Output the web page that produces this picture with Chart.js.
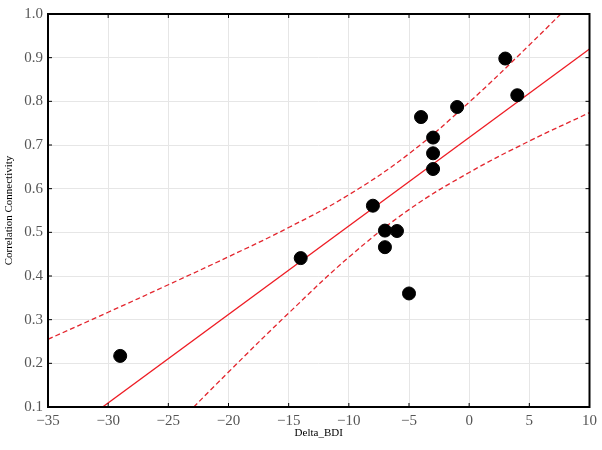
<!DOCTYPE html>
<html>
<head>
<meta charset="utf-8">
<script src="https://cdn.jsdelivr.net/npm/chart.js@4/dist/chart.umd.min.js"></script>
<style>
  html, body { margin: 0; padding: 0; background: #fff; }
  #wrap { width: 602px; height: 450px; }
</style>
</head>
<body>
<div id="wrap"><canvas id="myChart"></canvas></div>
<script>
// observed points
const deltaBDI = [-29, -14, -8, -7, -6, -7, -5, -4, -3, -3, -3, -1, 3, 4];
const connectivity = [0.217, 0.441, 0.561, 0.504, 0.503, 0.466, 0.360, 0.764, 0.717, 0.681, 0.645, 0.787, 0.898, 0.814];

// fitted line, read at the two ends
const fitX = [-35, 10];
const fitY = [0.008, 0.920];

// confidence band
const bandX = [-35, -30, -25, -20, -15, -10, -5, 0, 5, 10];
const upperY = [0.255, 0.317, 0.380, 0.444, 0.511, 0.586, 0.680, 0.798, 0.929, 1.066];
const lowerY = [-0.240, -0.099, 0.041, 0.180, 0.315, 0.443, 0.552, 0.637, 0.709, 0.774];

const xTicks = [-35, -30, -25, -20, -15, -10, -5, 0, 5, 10];
const yTicks = [0.1, 0.2, 0.3, 0.4, 0.5, 0.6, 0.7, 0.8, 0.9, 1.0];

const toXY = (xs, ys) => xs.map((x, i) => ({ x: x, y: ys[i] }));

// black frame with small inward ticks
const frame = {
  id: "frame",
  afterDatasetsDraw(chart) {
    const { ctx, chartArea: a, scales } = chart;
    ctx.save();
    ctx.strokeStyle = "#000";
    ctx.lineWidth = 1;
    xTicks.forEach((v) => {
      const px = scales.x.getPixelForValue(v);
      ctx.beginPath();
      ctx.moveTo(px, a.bottom); ctx.lineTo(px, a.bottom - 4);
      ctx.moveTo(px, a.top); ctx.lineTo(px, a.top + 4);
      ctx.stroke();
    });
    yTicks.forEach((v) => {
      const py = scales.y.getPixelForValue(v);
      ctx.beginPath();
      ctx.moveTo(a.left, py); ctx.lineTo(a.left + 4, py);
      ctx.moveTo(a.right, py); ctx.lineTo(a.right - 4, py);
      ctx.stroke();
    });
    ctx.lineWidth = 2;
    ctx.strokeRect(a.left, a.top, a.right - a.left, a.bottom - a.top);
    ctx.restore();
  },
};

const tickFont = { family: "'Liberation Serif', 'DejaVu Serif', serif", size: 15 };
const titleFont = { family: "'Liberation Serif', 'DejaVu Serif', serif", size: 11 };

new Chart(document.getElementById("myChart").getContext("2d"), {
  type: "scatter",
  data: {
    datasets: [
      {
        label: "points",
        data: toXY(deltaBDI, connectivity),
        backgroundColor: "#000",
        borderColor: "#000",
        pointRadius: 6.5,
        pointHoverRadius: 6.5,
      },
      {
        label: "fit",
        data: toXY(fitX, fitY),
        showLine: true,
        borderColor: "#ee1c24",
        borderWidth: 1.3,
        pointRadius: 0,
      },
      {
        label: "upper",
        data: toXY(bandX, upperY),
        showLine: true,
        borderColor: "#e3262e",
        borderWidth: 1.3,
        borderDash: [5, 3],
        tension: 0.4,
        pointRadius: 0,
      },
      {
        label: "lower",
        data: toXY(bandX, lowerY),
        showLine: true,
        borderColor: "#e3262e",
        borderWidth: 1.3,
        borderDash: [5, 3],
        tension: 0.4,
        pointRadius: 0,
      },
    ],
  },
  options: {
    responsive: true,
    maintainAspectRatio: false,
    animation: false,
    layout: { padding: { left: 0, right: 10, top: 9, bottom: 0 } },
    plugins: { legend: { display: false }, tooltip: { enabled: false } },
    scales: {
      x: {
        type: "linear",
        min: -35,
        max: 10,
        afterFit: (s) => { s.height = 43; },
        ticks: {
          stepSize: 5,
          color: "#555",
          font: tickFont,
          padding: 5,
          callback: (v) => (v < 0 ? "\u2212" + Math.abs(v) : String(v)),
        },
        grid: { color: "#e6e6e6", lineWidth: 1, drawTicks: false },
        border: { display: false },
        title: { display: true, text: "Delta_BDI", color: "#000", font: titleFont, padding: { top: 0, bottom: 10 } },
      },
      y: {
        min: 0.1,
        max: 1.0,
        afterFit: (s) => { s.width = 48; },
        ticks: {
          stepSize: 0.1,
          color: "#555",
          font: tickFont,
          padding: 5,
          callback: (v) => v.toFixed(1),
        },
        grid: { color: "#e6e6e6", lineWidth: 1, drawTicks: false },
        border: { display: false },
        title: { display: true, text: "Correlation Connectivity", color: "#000", font: titleFont, padding: { top: 3, bottom: 0 } },
      },
    },
  },
  plugins: [frame],
});
</script>
</body>
</html>
